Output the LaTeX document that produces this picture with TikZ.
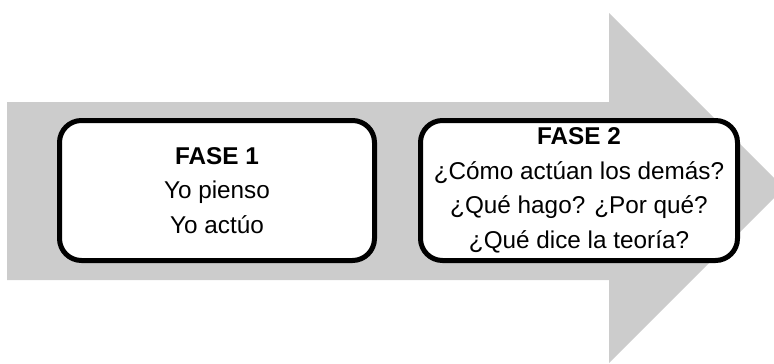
\documentclass[tikz,border=0pt]{standalone}
\usepackage{fontspec}
\setmainfont{Liberation Sans}
\definecolor{arrowgray}{RGB}{204,204,204}
\begin{document}
\begin{tikzpicture}[x=1pt,y=-1pt,
  phasebox/.style={draw=black, line width=5pt, fill=white, rounded corners=22pt,
    minimum height=140pt, align=center, inner sep=0pt,
    font=\fontsize{24.3}{34.5}\selectfont}]
\useasboundingbox (0,0) rectangle (774,364);
\clip (0,0) rectangle (774,364);
% big arrow
\fill[arrowgray] (7,102) -- (609,102) -- (609,13) -- (784,188) -- (609,363)
  -- (609,280) -- (7,280) -- cycle;
% boxes
\node[phasebox, minimum width=315pt] (f1) at (217,190.5)
  {\textbf{FASE 1}\\Yo pienso\\Yo actúo};
\node[phasebox, minimum width=317pt] (f2) at (579,190.5)
  {\textbf{FASE 2}\\¿Cómo actúan los demás?\\¿Qué hago? ¿Por qué?\\¿Qué dice la teoría?};
\end{tikzpicture}
\end{document}
